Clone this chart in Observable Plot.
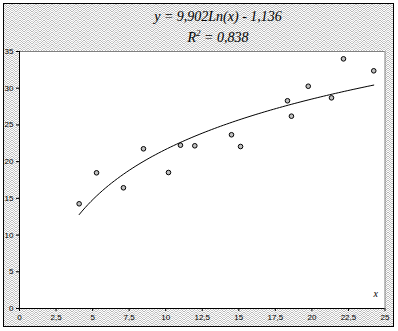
<!DOCTYPE html>
<html><head><meta charset="utf-8">
<script src="https://cdn.jsdelivr.net/npm/d3@7"></script>
<script src="https://cdn.jsdelivr.net/npm/@observablehq/plot@0.6"></script>
<style>
html,body{margin:0;padding:0;background:#fff;}
#wrap{position:relative;width:398px;height:331px;overflow:hidden;}
#frame{position:absolute;left:3px;top:3px;width:389px;height:322px;border:1px solid #000;}
#chart{position:absolute;left:0;top:0;}
.t{position:absolute;left:118px;width:200px;text-align:center;font-family:"Liberation Serif","Times New Roman",serif;font-style:italic;font-size:14px;color:#000;white-space:nowrap;}
</style></head>
<body>
<div id="wrap"><div id="frame"></div><div id="chart"></div>
<div class="t" style="top:9px">y = 9,902Ln(x) - 1,136</div>
<div class="t" style="top:30px">R<sup style="font-size:9px;vertical-align:6px;line-height:0">2</sup> = 0,838</div>
</div>
<script>
const xs = [4.08, 5.27, 7.11, 8.48, 10.19, 11.01, 11.99, 14.5, 15.12, 18.33, 18.6, 19.75, 21.34, 22.16, 24.23];
const ys = [14.26, 18.48, 16.44, 21.75, 18.52, 22.24, 22.16, 23.66, 22.06, 28.29, 26.19, 30.27, 28.69, 34.0, 32.37];
const xTicks = [0, 2.5, 5, 7.5, 10, 12.5, 15, 17.5, 20, 22.5, 25];
const yTicks = [0, 5, 10, 15, 20, 25, 30, 35];
const coefA = 9.902, coefB = -1.136;

// hatch background tile (herringbone of single pixels)
const zig = [0, 1, 2, 3, 3, 2, 1, 0];
const tile = "<svg xmlns='http://www.w3.org/2000/svg' width='8' height='4' shape-rendering='crispEdges'><rect width='8' height='4' fill='#fff'/>" +
  zig.map((r, c) => `<rect x='${c}' y='${r}' width='1' height='1' fill='#b8b8b8'/><rect x='${c}' y='${(r + 2) % 4}' width='1' height='1' fill='#cfcfcf'/>`).join("") + "</svg>";
document.getElementById("frame").style.backgroundImage = `url("data:image/svg+xml,${encodeURIComponent(tile)}")`;

const pts = xs.map((x, i) => ({x, y: ys[i]}));
const xmin = d3.min(xs), xmax = d3.max(xs);
const trend = d3.range(0, 101).map(i => {
  const x = xmin + (xmax - xmin) * i / 100;
  return {x, y: coefA * Math.log(x) + coefB};
});
const fmt = d => String(d).replace(".", ",");

const plot = Plot.plot({
  width: 398, height: 331,
  marginLeft: 19, marginRight: 13.5, marginTop: 51, marginBottom: 23,
  style: {background: "transparent", fontFamily: "Arial, 'Liberation Sans', sans-serif", fontSize: "8px", color: "#000"},
  x: {domain: [0, 25]},
  y: {domain: [0, 35]},
  marks: [
    Plot.frame({fill: "white", stroke: "none"}),
    Plot.ruleY([35], {stroke: "#808080"}),
    Plot.ruleX([25], {stroke: "#808080"}),
    Plot.axisX({ticks: xTicks, tickFormat: fmt, tickSize: 3, tickPadding: 3, label: null, stroke: "#000", fill: "#000"}),
    Plot.axisY({ticks: yTicks, tickFormat: fmt, tickSize: 3, tickPadding: 3, label: null, stroke: "#000", fill: "#000"}),
    Plot.ruleX([0], {stroke: "#000"}),
    Plot.ruleY([0], {stroke: "#000"}),
    Plot.line(trend, {x: "x", y: "y", stroke: "#000", strokeWidth: 1}),
    Plot.dot(pts, {x: "x", y: "y", r: 2.3, fill: "#c0c0c0", stroke: "#000", strokeWidth: 1}),
    Plot.text(["x"], {frameAnchor: "bottom-right", dx: -7, dy: -12, fontFamily: "'Liberation Serif', serif", fontStyle: "italic", fontSize: 10})
  ]
});
document.getElementById("chart").appendChild(plot);
</script>
</body></html>
